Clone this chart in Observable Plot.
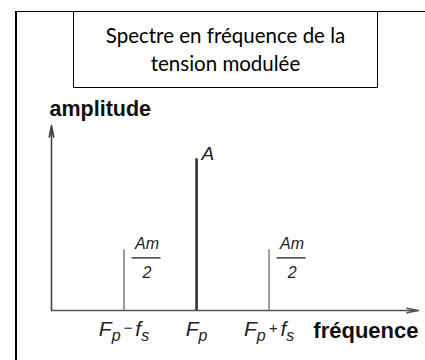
<!DOCTYPE html>
<html>
<head>
<meta charset="utf-8">
<script src="https://cdn.jsdelivr.net/npm/d3@7"></script>
<script src="https://cdn.jsdelivr.net/npm/@observablehq/plot@0.6"></script>
<style>
  html, body { margin: 0; padding: 0; background: #fff; }
  #wrap { position: relative; width: 425px; height: 360px; overflow: hidden; background: #fff; }
  #frame { position: absolute; left: 15px; top: 11px; width: 500px; height: 400px;
           border-left: 2.5px solid #000; border-top: 1.5px solid #000; }
  #title { position: absolute; left: 73px; top: 11px; width: 305px; height: 77px; box-sizing: border-box;
           border: 1.5px solid #000; border-top: none; text-align: center;
           font-family: Lato, "Open Sans", sans-serif; font-size: 20.5px; line-height: 28px; color: #000;
           padding-top: 10px; }
  #chart { position: absolute; left: 0; top: 0; }
</style>
</head>
<body>
<div id="wrap">
  <div id="frame"></div>
  <div id="title">Spectre en fréquence de la<br>tension modulée</div>
  <div id="chart"></div>
</div>
<script>
// ---- data ----
const offsets = [-1, 0, 1];                       // F_p - f_s, F_p, F_p + f_s
const tickLabels = ["F_p−f_s", "F_p", "F_p+f_s"];
const amplitudes = [0.4, 1, 0.4];
const peakLabels = ["Am/2", "A", "Am/2"];
const xTitle = "fréquence";
const yTitle = "amplitude";
const xStart = -2, xEnd = 3.06, yTop = 1.22;

const rows = offsets.map((x, i) => ({x, amp: amplitudes[i], tick: tickLabels[i], label: peakLabels[i]}));
const carrier = rows.filter(d => !d.label.includes("/"));
const sides = rows.filter(d => d.label.includes("/"));
const fractions = sides.map(d => ({...d, num: d.label.split("/")[0], den: d.label.split("/")[1]}));

const sans = "'Liberation Sans', Arial, Helvetica, sans-serif";

const chart = Plot.plot({
  width: 425,
  height: 360,
  marginLeft: 51,
  marginRight: 7,
  marginTop: 125,
  marginBottom: 50,
  x: {domain: [xStart, xEnd], axis: null},
  y: {domain: [0, yTop], axis: null},
  style: {fontFamily: sans, color: "#222", background: "transparent"},
  marks: [
    // axes with arrows
    Plot.arrow([{}], {x1: xStart, y1: 0, x2: xEnd, y2: 0, stroke: "#555", strokeWidth: 1.6, headLength: 11, headAngle: 22}),
    Plot.arrow([{}], {x1: xStart, y1: 0, x2: xStart, y2: yTop, stroke: "#444", strokeWidth: 1.6, headLength: 11, headAngle: 22}),
    // spectral lines
    Plot.ruleX(sides, {x: "x", y1: 0, y2: "amp", stroke: "#9a9a9a", strokeWidth: 2}),
    Plot.ruleX(carrier, {x: "x", y1: 0, y2: "amp", stroke: "#333", strokeWidth: 2.6}),
    // peak labels
    Plot.text(carrier, {x: "x", y: "amp", text: "label", dx: 5, dy: -5, textAnchor: "start",
      fontStyle: "italic", fontSize: 19, fill: "#222"}),
    Plot.text(fractions, {x: "x", y: "amp", text: "num", dx: 23, dy: -6, textAnchor: "middle",
      fontStyle: "italic", fontSize: 16, fill: "#222"}),
    Plot.ruleY(fractions, {y: "amp", x1: d => d.x + 0.11, x2: d => d.x + 0.51, dy: 8, stroke: "#333", strokeWidth: 1.4}),
    Plot.text(fractions, {x: "x", y: "amp", text: "den", dx: 23, dy: 23, textAnchor: "middle",
      fontStyle: "italic", fontSize: 16, fill: "#222"}),
    // tick labels
    Plot.text(rows, {x: "x", y: 0, text: "tick", dy: 19, textAnchor: "middle",
      fontStyle: "italic", fontSize: 21, fill: "#222"}),
    // axis titles
    Plot.text([xTitle], {x: xEnd, y: 0, text: d => d, dy: 20, textAnchor: "end",
      fontWeight: "bold", fontSize: 22, fill: "#111"}),
    Plot.text([yTitle], {x: xStart, y: yTop, text: d => d, dx: -2, dy: -16, textAnchor: "start",
      fontWeight: "bold", fontSize: 21.5, fill: "#111"})
  ]
});
document.getElementById("chart").appendChild(chart);

// render "_x" as subscripts, operators smaller and raised
d3.select(chart).selectAll("text").each(function() {
  const s = this.textContent;
  if (!s.includes("_")) return;
  const el = d3.select(this);
  el.text(null);
  let shift = 0;
  const add = (t, size, target) => {
    const ts = el.append("tspan").text(t);
    if (size) ts.attr("font-size", size);
    if (target !== shift) { ts.attr("dy", target - shift); shift = target; }
  };
  for (let i = 0; i < s.length; i++) {
    const c = s[i];
    if (c === "_") { add(s[i + 1], 16, 5); i++; }
    else if (c === "−" || c === "+") add("\u2009" + c + "\u2009", 15, -3);
    else add(c, null, 0);
  }
});
</script>
</body>
</html>
